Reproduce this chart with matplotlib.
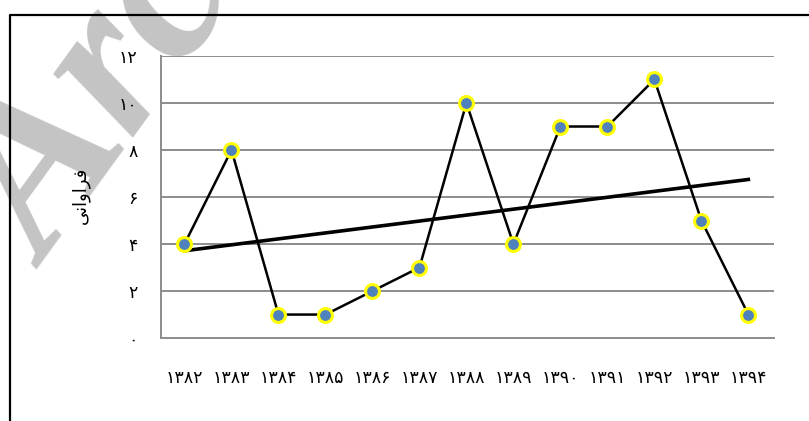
import matplotlib
matplotlib.use("Agg")
import matplotlib.pyplot as plt
from matplotlib.lines import Line2D
import numpy as np

# Years (Persian calendar), written with Persian digits as on the chart
years = ["۱۳۸۲", "۱۳۸۳", "۱۳۸۴", "۱۳۸۵", "۱۳۸۶", "۱۳۸۷", "۱۳۸۸",
         "۱۳۸۹", "۱۳۹۰", "۱۳۹۱", "۱۳۹۲", "۱۳۹۳", "۱۳۹۴"]
counts = [4, 8, 1, 1, 2, 3, 10, 4, 9, 9, 11, 5, 1]

y_ticks = [0, 2, 4, 6, 8, 10, 12]
y_tick_labels = ["۰", "۲", "۴", "۶", "۸", "۱۰", "۱۲"]

# "فراوانی" in presentation forms, visual order (matplotlib does no shaping)
y_label = "\uFEF0\uFEE7\uFE8D\uFEED\uFE8D\uFEAE\uFED3"

fig = plt.figure(figsize=(8.09, 4.21), dpi=100)
ax = fig.add_axes([0.199, 0.197, 0.758, 0.670])
ax.set_facecolor("none")

x = np.arange(len(years))

# light grey watermark behind the plot
fig.text(0.06, 0.36, "Archive", rotation=54, rotation_mode="anchor",
         fontsize=160, fontweight="bold", fontstyle="italic",
         family="Liberation Serif", color="#c4c4c4", zorder=-5)

# outer frame, cut at the right and bottom of the picture
fig.add_artist(Line2D([0.0124, 0.0124, 1.0], [0.0, 0.964, 0.964],
                      transform=fig.transFigure, color="black", lw=1.6))

for yv in y_ticks[1:]:
    ax.axhline(yv, color="#8c8c8c", lw=1.4, zorder=1)

ax.plot(x, counts, color="black", lw=1.8, zorder=3,
        marker="o", markersize=10, markerfacecolor="#4f81bd",
        markeredgecolor="#ffff00", markeredgewidth=2.2)

# linear trend line fitted to the same counts
slope, intercept = np.polyfit(x, counts, 1)
ax.plot(x, slope * x + intercept, color="black", lw=2.6, zorder=2)

ax.set_xlim(-0.5, 12.55)
ax.set_ylim(0, 12)
ax.set_xticks(x)
ax.set_xticklabels(years, fontsize=12.5)
ax.set_yticks(y_ticks)
ax.set_yticklabels(y_tick_labels, fontsize=12.5)
ax.tick_params(axis="both", length=0)
ax.tick_params(axis="x", pad=22)
ax.tick_params(axis="y", pad=17)

for side in ("top", "right"):
    ax.spines[side].set_visible(False)
for side in ("left", "bottom"):
    ax.spines[side].set_color("#8c8c8c")
    ax.spines[side].set_linewidth(1.4)

fig.text(0.099, 0.537, y_label, rotation=90, fontsize=13,
         ha="center", va="center")

fig.savefig("out.png", dpi=100)
